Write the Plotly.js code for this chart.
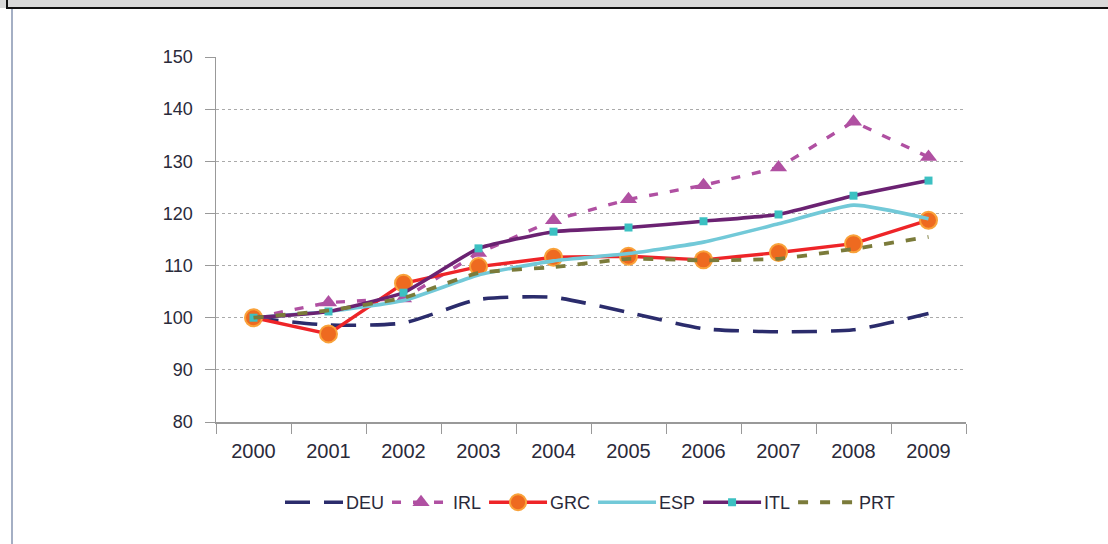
<!DOCTYPE html>
<html>
<head>
<meta charset="utf-8">
<script src="https://cdn.plot.ly/plotly-3.0.1.min.js"></script>
<style>
html,body{margin:0;padding:0;background:#fff;}
#chart{width:1108px;height:544px;}
</style>
</head>
<body>
<div id="chart"></div>
<script>
const years = ["2000","2001","2002","2003","2004","2005","2006","2007","2008","2009"];
const DEU = [100, 98.6, 99.0, 103.5, 103.9, 101.0, 97.9, 97.3, 97.7, 100.8];
const IRL = [100, 102.9, 103.7, 112.4, 118.7, 122.7, 125.4, 128.8, 137.6, 130.8];
const GRC = [100, 96.9, 106.6, 109.8, 111.6, 111.8, 111.1, 112.5, 114.2, 118.7];
const ESP = [100, 101.2, 103.3, 108.2, 110.9, 112.3, 114.5, 118.0, 121.6, 119.0];
const ITL = [100, 101.2, 104.8, 113.3, 116.5, 117.3, 118.5, 119.8, 123.4, 126.3];
const PRT = [100, 101.4, 103.8, 108.6, 109.7, 111.3, 111.0, 111.3, 113.2, 115.5];
const yTicks = [80, 90, 100, 110, 120, 130, 140, 150];

const font = "Liberation Sans, Arial, sans-serif";
const xf = {family:font, size:20, color:"#2a2a3a"};
const yf = {family:font, size:18, color:"#2a2a3a"};
const lf = {family:font, size:18, color:"#2a2a3a"};

const traces = [
  {name:"DEU", x:years, y:DEU, mode:"lines",
   line:{color:"#2b2c6c", width:3.6, dash:"25px,14px", shape:"spline", smoothing:0.6}},
  {name:"IRL", x:years, y:IRL, mode:"lines+markers",
   line:{color:"#b050a2", width:3.4, dash:"9px,12px"},
   marker:{symbol:"triangle-up", size:15, color:"#b050a2"}},
  {name:"GRC", x:years, y:GRC, mode:"lines+markers",
   line:{color:"#ee2428", width:3.4},
   marker:{symbol:"circle", size:17, color:"#ee6a20", line:{color:"#f9a23a", width:2}}},
  {name:"ESP", x:years, y:ESP, mode:"lines",
   line:{color:"#72c9d8", width:3.6, shape:"spline", smoothing:0.5}},
  {name:"ITL", x:years, y:ITL, mode:"lines+markers",
   line:{color:"#6b2272", width:3.6, shape:"spline", smoothing:0.4},
   marker:{symbol:"square", size:8, color:"#3cc0c2"}},
  {name:"PRT", x:years, y:PRT, mode:"lines",
   line:{color:"#7b7b3a", width:3.8, dash:"10px,12px", shape:"spline", smoothing:0.4}}
];

const layout = {
  width:1108, height:544,
  paper_bgcolor:"#ffffff", plot_bgcolor:"#ffffff",
  margin:{l:216, r:142, t:57, b:122},
  showlegend:true,
  legend:{orientation:"h", x:0.5, xanchor:"center", y:-0.17, yanchor:"top",
          font:lf, itemwidth:54, traceorder:"normal"},
  xaxis:{type:"category", range:[-0.5, 9.5], tickson:"boundaries", ticks:"outside", ticklen:10, tickcolor:"#999",
         showline:true, linecolor:"#999", linewidth:1.5, showgrid:false,
         tickfont:xf, ticklabelstandoff:10, fixedrange:true},
  yaxis:{range:[80,150], tickvals:yTicks, ticktext:yTicks.map(String), ticks:"outside", ticklen:10,
         tickcolor:"#999", showline:true, linecolor:"#999", linewidth:1.5,
         showgrid:true, gridcolor:"#aaaaaa", griddash:"dot", gridwidth:1, zeroline:false,
         tickfont:yf, ticklabelstandoff:8}
};

function decorate(){
  document.querySelectorAll("#chart .legend .traces").forEach(function(g){
    g.querySelectorAll(".legendlines path").forEach(function(p){ p.setAttribute("d","M3,0h58"); });
    g.querySelectorAll(".legendpoints path").forEach(function(p){
      const t = p.getAttribute("transform") || "";
      if (/translate\(\s*20\b/.test(t)) p.setAttribute("transform", t.replace(/translate\(\s*20\b/, "translate(32"));
    });
  });
  const svg = document.querySelector("#chart .main-svg");
  if (!svg || svg.querySelector(".hdr")) return;
  const ns = "http://www.w3.org/2000/svg";
  function rect(x,y,w,h,fill){const r=document.createElementNS(ns,"rect");r.setAttribute("class","hdr");r.setAttribute("x",x);r.setAttribute("y",y);r.setAttribute("width",w);r.setAttribute("height",h);r.setAttribute("fill",fill);svg.appendChild(r);}
  rect(0,0,1108,8,"#d9d9d9");
  rect(6,7,1102,2,"#111111");
  rect(6,0,2,9,"#111111");
  rect(11,9,2,535,"#a4afc4");
}

Plotly.newPlot("chart", traces, layout, {displayModeBar:false, staticPlot:true}).then(function(gd){
  gd.on("plotly_afterplot", decorate);
  decorate();
  setTimeout(decorate, 50);
  setTimeout(decorate, 300);
});
</script>
</body>
</html>
